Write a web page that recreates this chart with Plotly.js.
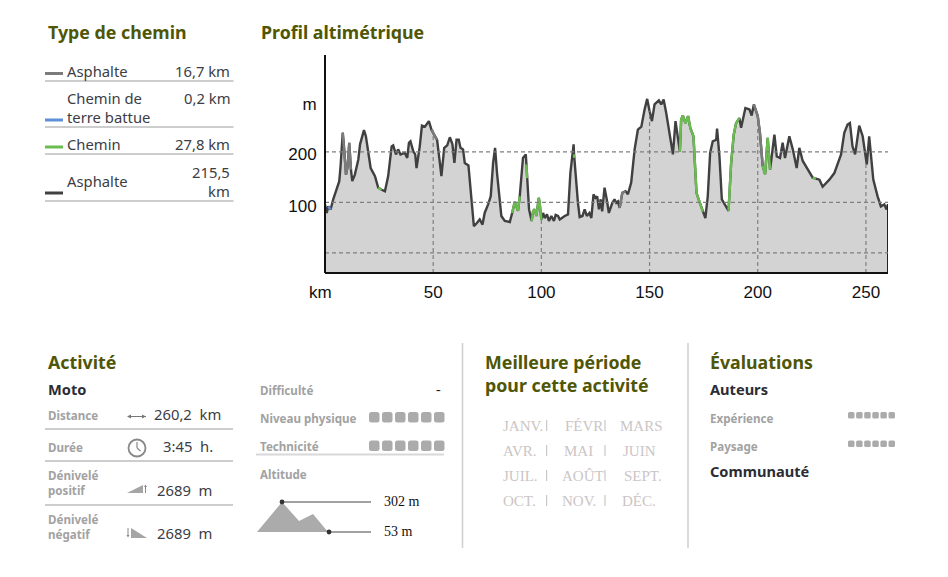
<!DOCTYPE html>
<html><head><meta charset="utf-8">
<script src="https://cdn.plot.ly/plotly-3.0.1.min.js"></script>
<style>html,body{margin:0;padding:0;background:#fff}#c{width:948px;height:577px}</style></head>
<body><div id="c"></div>
<script>
const km = [0,0.8,1.5,2.6,3.8,5.4,6.6,7.2,8.2,8.9,9.7,10.5,11.2,12,12.6,13.8,15.4,16.2,17.4,18,18.9,20,21.1,23.1,24.6,26.2,27.7,29.2,30.8,31.5,32.8,33.8,34.9,36.9,38,38.8,39.5,40.8,41.7,42.3,43.8,44.8,46.2,48,49.2,50.8,51.8,53.1,53.8,55.1,56.5,57.7,58.9,59.8,60.8,61.8,62.6,63.8,64.6,66.3,67.2,68.2,68.8,70,71.5,72.8,73.8,75.4,76.6,77.7,78.6,79.5,80.8,81.5,83.1,85.4,86.5,87.7,89.2,90,91.5,92.8,93.1,93.4,94.3,95.5,96.2,96.9,97.7,98.8,99.2,100,100.8,101.5,102.6,103.5,104.6,105.8,106.6,107.7,108.5,110.8,112.3,113.4,114.9,115.1,115.2,115.8,116.9,117.7,119,120,121,122.2,123.1,124.1,125,125.8,126.6,127.4,128.1,129.2,130.2,131.2,132.8,133.8,134.6,135.4,136.2,137.4,138.9,140,141.5,143.1,144.6,146.2,147.7,148.9,150,151.1,152.3,154.3,155.4,156.5,157.7,159.2,160.8,162,163.1,164,164.6,165.4,166.6,167.8,168.8,170.3,171.2,171.7,173,174.6,175.8,176.9,178,179.2,180.8,181.2,182.3,183.4,184.6,186.5,187.7,188.9,190,191.5,192.3,194.3,196.2,197.2,198.2,200,201,202.3,203.4,204.6,205.7,207.7,208.8,210.3,211.5,212.6,214.6,216.2,218,219.2,220.8,223.1,225.4,226.9,228.5,230,233.1,235.4,238.5,240,241.5,242.6,243.8,245,246.9,248.5,250.4,251.5,253.4,255.4,256.9,258.5,259.5,260.2];
const elevation = [96,79,92,86,106,125,142,172,238,205,155,172,218,165,142,155,185,215,238,243,231,198,168,152,129,125,122,152,211,213,195,205,195,198,188,218,221,201,195,168,211,252,250,261,244,231,224,178,152,208,213,229,215,178,224,224,208,205,178,173,125,73,53,58,66,56,79,96,112,178,208,158,106,73,63,61,79,101,83,112,188,195,175,148,86,63,83,86,73,109,99,66,79,69,76,63,73,63,75,73,66,73,76,158,215,195,188,158,99,71,73,86,73,79,69,116,109,112,86,106,82,129,106,79,99,106,99,102,89,119,122,116,139,205,244,250,284,305,281,261,294,302,294,304,277,238,195,261,224,201,264,272,257,271,248,231,158,119,102,81,69,112,198,221,224,246,191,106,96,83,178,234,257,267,248,287,284,272,294,271,238,172,156,228,165,234,191,188,218,188,231,205,168,208,182,165,149,147,145,131,145,158,195,238,254,257,211,195,252,231,175,231,145,112,92,96,86,96];
if (km.length !== elevation.length) throw new Error('length mismatch ' + km.length + ' ' + elevation.length);
const greenStretches = [[24.6,26.2],[86.5,90],[93.1,93.4],[95.5,97.7],[98.8,100],[115.1,115.2],[164,174.6],[186.5,191.5],[202.3,205.7],[225.4,226.9]];
const grayStretches = [[8.2,12],[49.2,51.8],[136.2,138.9],[198.2,202.3]];
const blueStretches = [[1.5,2.6]];
const xTickVals = [0,50,100,150,200,250];
const xTickText = ['km\u00a0\u00a0','50','100','150','200','250'];
const yTickVals = [92,195,294];
const yTickText = ['100','200','m'];
const gridElevations = [0,100,200];
const gridKm = [50,100,150,200,250];
const axisFloor = -40;

const pathNames = ['Asphalte','Chemin de<br>terre battue','Chemin','Asphalte'];
const pathLengths = ['16,7 km','0,2 km','27,8 km','215,5<br>km'];
const monthRows = [['JANV.','FÉVR','MARS'],['AVR.','MAI','JUIN'],['JUIL.','AOÛT','SEPT.'],['OCT.','NOV.','DÉC.']];

const C = {dark:'#404040', green:'#6bbd50', gray:'#7b7b7b', blue:'#5f8fd6', fill:'#d3d3d3', head:'#4f5606', label:'#a2a2a2', text:'#3d3d45', rule:'#bdbdbd', sq:'#ababab'};
const L=325,R=888,T=55,B=273;
const px=x=>(x-L)/(R-L), py=y=>(B-y)/(B-T);
const inR=(k,rs)=>rs.some(r=>k>=r[0]&&k<=r[1]);
const stretch=(rs,color)=>({x:km,y:elevation.map((v,i)=>inR(km[i],rs)?v:null),mode:'lines',connectgaps:false,line:{color,width:2.4},hoverinfo:'skip',showlegend:false,type:'scatter'});
const traces=[
 {x:km,y:km.map(()=>axisFloor),mode:'lines',line:{width:0},hoverinfo:'skip',showlegend:false,type:'scatter'},
 {x:km,y:elevation,mode:'lines',fill:'tonexty',fillcolor:C.fill,line:{color:C.dark,width:2.4},showlegend:false,type:'scatter'},
 stretch(grayStretches,C.gray),stretch(blueStretches,C.blue),stretch(greenStretches,C.green),
 {x:[km[km.length-1],km[km.length-1]],y:[axisFloor,elevation[elevation.length-1]],mode:'lines',line:{color:'#222',width:2},hoverinfo:'skip',showlegend:false,type:'scatter'}
];

const ann=[],shp=[];
const FS='"Noto Sans", sans-serif';
function t(text,x,y,o={}){const dy=o.f?0:(o.dy!==undefined?o.dy:-1);ann.push({text,x:px(x),y:py(y+dy),xref:'paper',yref:'paper',showarrow:false,xanchor:o.a||'left',yanchor:'middle',align:o.a||'left',borderpad:0,borderwidth:0,
 font:{family:o.f||FS,size:o.s||14.8,color:o.c||C.text,weight:o.b?700:400}});}
const head=(s,x,y)=>t(s,x,y,{s:17.8,b:1,c:C.head,dy:-0.6});
const lab=(s,x,y)=>t(s,x,y,{s:11.6,b:1,c:C.label,dy:-0.6});
const bold=(s,x,y)=>t(s,x,y,{s:14.6,b:1,c:'#2c2c34'});
function ln(x0,y0,x1,y1,color,width,dash){shp.push({type:'line',xref:'paper',yref:'paper',x0:px(x0),y0:py(y0),x1:px(x1),y1:py(y1),line:{color,width,dash:dash||'solid'}});}
function poly(pts,color){shp.push({type:'path',xref:'paper',yref:'paper',path:'M'+pts.map(p=>px(p[0])+','+py(p[1])).join(' L')+' Z',fillcolor:color,line:{width:0}});}
function round(x,y,w,h,r,color){const a=(X,Y)=>px(X)+','+py(Y);
 shp.push({type:'path',xref:'paper',yref:'paper',fillcolor:color,line:{width:0},path:`M${a(x+r,y)} L${a(x+w-r,y)} Q${a(x+w,y)} ${a(x+w,y+r)} L${a(x+w,y+h-r)} Q${a(x+w,y+h)} ${a(x+w-r,y+h)} L${a(x+r,y+h)} Q${a(x,y+h)} ${a(x,y+h-r)} L${a(x,y+r)} Q${a(x,y)} ${a(x+r,y)} Z`});}
function circle(cx,cy,r,fill,lc,lw){shp.push({type:'circle',xref:'paper',yref:'paper',x0:px(cx-r),x1:px(cx+r),y0:py(cy-r),y1:py(cy+r),fillcolor:fill,line:{color:lc||fill,width:lw||0}});}

// grid drawn over the filled profile
gridElevations.forEach(v=>shp.push({type:'line',xref:'paper',yref:'y',x0:0,x1:1,y0:v,y1:v,line:{color:'#7f7f7f',width:1.2,dash:'4px,3px'}}));
gridKm.forEach(k=>{let j=0;km.forEach((q,i)=>{if(Math.abs(q-k)<Math.abs(km[j]-k))j=i;});
 shp.push({type:'line',xref:'x',yref:'y',x0:k,x1:k,y0:axisFloor,y1:elevation[j],line:{color:'#7f7f7f',width:1.2,dash:'4px,3px'}});});

// Type de chemin
head('Type de chemin',48,33);
head('Profil altimétrique',261,33);
const swY=[73.5,120,147,193],swC=[C.gray,C.blue,C.green,C.dark],sepY=[81,127,154,201],nameY=[72,108.5,145,182],lenY=[72,99,145,182];
pathNames.forEach((n,i)=>{
 t(n,67,nameY[i]);
 t(pathLengths[i],230,lenY[i],{a:'right'});
 ln(45,swY[i],63,swY[i],swC[i],3);
 ln(45,sepY[i],233.5,sepY[i],C.rule,1.5);
});

// Activité
head('Activité',48,363);
bold('Moto',48,390);
lab('Distance',48,416);
lab('Durée',48,448);
lab('Dénivelé<br>positif',48,484);
lab('Dénivelé<br>négatif',48,528);
t('260,2&#160;&#160;km',154,415);
t('3:45&#160;&#160;h.',163,447);
t('2689&#160;&#160;m',157,491);
t('2689&#160;&#160;m',157,534);
[429,461,505].forEach(y=>ln(45,y,233,y,C.rule,1.5));
ln(128,416.5,146,416.5,'#777',1);
poly([[127,416.5],[131,414.5],[131,418.5]],'#777');poly([[146,416.5],[142,414.5],[142,418.5]],'#777');
circle(137,448,8.5,'rgba(0,0,0,0)','#888',1.8);
ln(137,442,137,448,'#888',1.2);ln(137,448,140.5,451,'#888',1.2);
poly([[127,493],[143,493],[143,485]],'#a5a5a5');
ln(145.5,493,145.5,486,'#888',1);poly([[145.5,484.5],[144,487],[147,487]],'#888');
poly([[131,528],[131,538],[147,538]],'#a5a5a5');
ln(128,528,128,535,'#888',1);poly([[128,537.5],[126.5,535],[129.5,535]],'#888');

lab('Difficulté',260,391);
t('-',436,389,{s:14,c:'#222',f:'"Liberation Serif", serif'});
lab('Niveau physique',260,419);
lab('Technicité',260,447);
ln(256,454.5,444,454.5,'#d8d8d8',2);
lab('Altitude',260,475);
[412,440.5].forEach(y=>{for(let i=0;i<6;i++)round(369+i*13,y,10.5,10.5,2.5,C.sq);});
poly([[257,532],[282,502],[299,521],[313,514],[328,532]],'#ababab');
ln(282,502,371,502,'#444',1.2);ln(329,532,371,532,'#444',1.2);
circle(282,502,2.4,'#333');circle(329,532,2.4,'#333');
t('302 m',384,501,{f:'"Liberation Serif", serif',s:14,c:'#111'});
t('53 m',384,531,{f:'"Liberation Serif", serif',s:14,c:'#111'});

ln(462.5,343,462.5,548,'#cfcfcf',1.5);
ln(688,343,688,548,'#cfcfcf',1.5);

// Meilleure période
head('Meilleure période',485,363);
head('pour cette activité',485,386);
const monthX=[[503,565,620],[503,563.7,622.7],[503,562,624],[503,561.7,622]];
const monthY=[426,451,476,501];
monthRows.forEach((row,r)=>{row.forEach((m,c)=>t(m,monthX[r][c],monthY[r],{f:'"Liberation Serif", serif',s:15,c:'#cbc5c5'}));
 ln(546.7,monthY[r]-6,546.7,monthY[r]+5,'#bdbdbd',1);ln(605,monthY[r]-6,605,monthY[r]+5,'#bdbdbd',1);});

// Évaluations
head('Évaluations',710,363);
bold('Auteurs',710,390);
lab('Expérience',710,419);
lab('Paysage',710,447);
bold('Communauté',710,472);
[412,440.5].forEach(y=>{for(let i=0;i<6;i++)round(848+i*8.1,y,6.5,6.5,1.5,C.sq);});

const layout={width:948,height:577,paper_bgcolor:'#fff',plot_bgcolor:'#fff',showlegend:false,
 margin:{l:L,r:948-R,t:T,b:577-B,pad:0},
 font:{family:'"Liberation Sans", Arial, sans-serif',size:17,color:'#111'},
 xaxis:{range:[0,260.2],tickmode:'array',tickvals:xTickVals,ticktext:xTickText,showgrid:false,zeroline:false,showline:false,ticks:'outside',ticklen:4,tickcolor:'rgba(0,0,0,0)',tickfont:{size:17}},
 yaxis:{range:[axisFloor,392],tickmode:'array',tickvals:yTickVals,ticktext:yTickText,showgrid:false,zeroline:false,showline:false,ticks:'outside',ticklen:4,tickcolor:'rgba(0,0,0,0)',tickfont:{size:17}},
 annotations:ann,shapes:shp.concat([
  {type:'line',xref:'paper',yref:'paper',x0:0,x1:0,y0:0,y1:1,line:{color:'#111',width:2}},
  {type:'line',xref:'paper',yref:'paper',x0:0,x1:1,y0:0,y1:0,line:{color:'#111',width:2}}])};
Plotly.newPlot('c',traces,layout,{displayModeBar:false,staticPlot:true});
</script></body></html>
